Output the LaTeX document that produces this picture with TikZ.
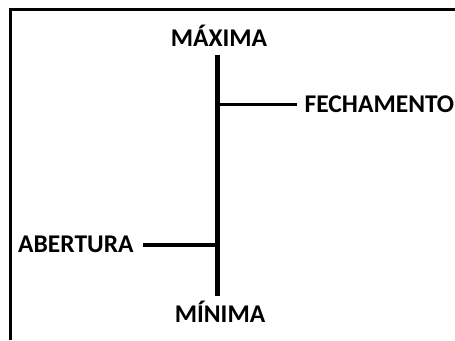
\documentclass[tikz,border=0pt]{standalone}
\usepackage{fontspec}
\setmainfont{Carlito}
\begin{document}
\begin{tikzpicture}[x=1pt,y=1pt,
  lbl/.style={inner sep=0pt, font=\fontsize{25.5}{30}\selectfont\bfseries},
  stem/.style={line width=4.5pt},
  branch/.style={line width=3.5pt},
  frame/.style={line width=3.8pt, line join=miter}]
\useasboundingbox (0,0) rectangle (455,340);
% frame (open at right and bottom)
\draw[frame] (10.5,0) -- (10.5,330.5) -- (455,330.5);
% labels
\node[lbl, anchor=base] (max) at (219,293.3) {MÁXIMA};
\node[lbl, anchor=base] (min) at (220,17) {MÍNIMA};
\node[lbl, anchor=base west] (fech) at (304.5,227) {FECHAMENTO};
\node[lbl, anchor=base west] (ab) at (18,87) {ABERTURA};
% stem
\coordinate (vt) at (217.5,285);
\coordinate (vb) at (217.5,44);
\draw[stem] (vt) -- (vb);
% branches
\draw[branch] ([xshift=2pt]fech.west -| vt) -- ([xshift=-8pt]fech.west);
\draw[branch] ([xshift=9pt]ab.east) -- ([xshift=2pt]ab.east -| vt);
\end{tikzpicture}
\end{document}
